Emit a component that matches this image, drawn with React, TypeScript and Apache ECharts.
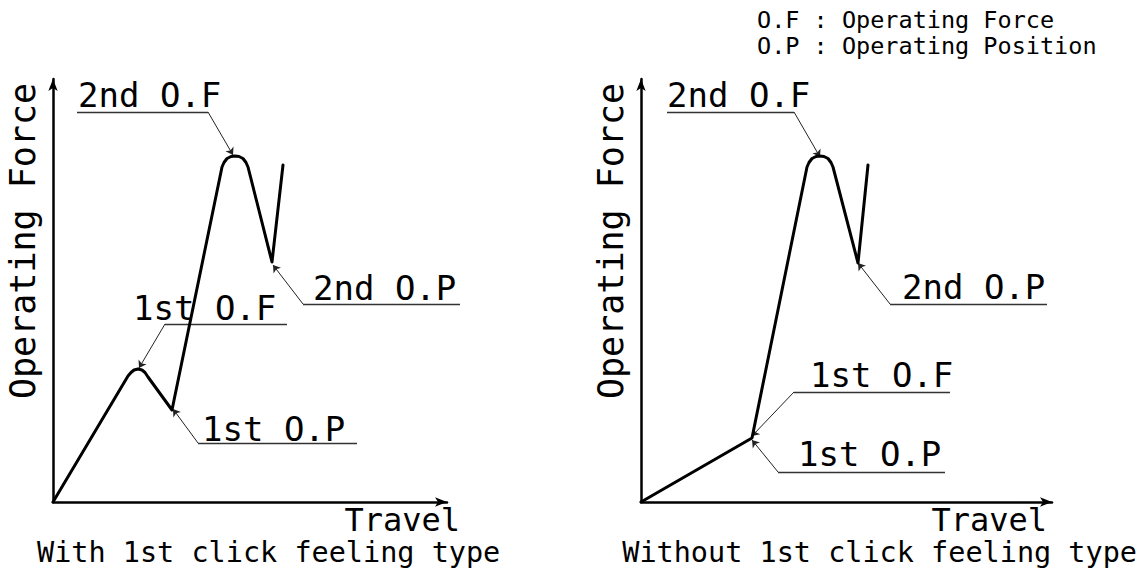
import React, { useEffect, useRef } from "react";
import * as echarts from "echarts";

// Values are in drawing units (≈ px from each chart's origin).
const leftCurve = [
  [0, 0], [75, 126], [78, 129.5], [81, 132], [85, 133], [89, 132], [92, 129.5], [95, 125], [119, 92],
  [169, 335], [171, 339.5], [174, 343.5], [178, 345.5], [182, 346], [186, 345.5], [190, 343.5], [193, 339.5], [195, 335],
  [219, 240], [230, 337],
];
const rightCurve = [
  [0, 0], [111, 64], [166, 335], [168, 339.5], [171, 343.5], [175, 345.5], [179, 346], [183, 345.5], [187, 343.5],
  [190, 339.5], [192, 335], [217, 239], [227, 337],
];

// leader polylines: shelf end, shelf corner, arrow tip
const leftLeaders = [
  [[24, 390], [155, 390], [180, 347]],
  [[407, 198], [250, 198], [220, 237]],
  [[234, 178], [112, 178], [86, 134]],
  [[304, 59], [145, 59], [120, 93]],
];
const rightLeaders = [
  [[26, 390], [153, 390], [179, 345]],
  [[406, 198], [249, 198], [217, 239]],
  [[309, 110], [153, 110], [111, 66]],
  [[304, 30], [137, 30], [111, 62]],
];

const leftNotes = [
  { name: "2nd O.F", value: [25, 407] },
  { name: "2nd O.P", value: [260, 214] },
  { name: "1st O.F", value: [80, 194] },
  { name: "1st O.P", value: [149, 73] },
];
const rightNotes = [
  { name: "2nd O.F", value: [26, 407] },
  { name: "2nd O.P", value: [261, 215] },
  { name: "1st O.F", value: [169, 127] },
  { name: "1st O.P", value: [157, 48] },
];

const axisTitleY = "Operating Force";
const axisTitleX = "Travel";
const captions = ["With 1st click feeling type", "Without 1st click feeling type"];
const legendLines = ["O.F : Operating Force", "O.P : Operating Position"];

const FONT = "'DejaVu Sans Mono', 'Liberation Mono', monospace";

function axisPair(grid: number, max: number) {
  const line = {
    show: true,
    symbol: ["none", "arrow"],
    symbolSize: [7, 12],
    lineStyle: { color: "#000", width: 2.5 },
  };
  return {
    x: {
      type: "value", gridIndex: grid, min: 0, max,
      axisLine: line, axisTick: { show: false }, axisLabel: { show: false }, splitLine: { show: false },
    },
    y: {
      type: "value", gridIndex: grid, min: 0, max: 423,
      axisLine: line, axisTick: { show: false }, axisLabel: { show: false }, splitLine: { show: false },
    },
  };
}

function panelSeries(idx: number, curve: number[][], leaders: number[][][], notes: any[]) {
  return [
    {
      type: "line", xAxisIndex: idx, yAxisIndex: idx, data: curve, symbol: "none",
      lineStyle: { color: "#000", width: 3, join: "round", cap: "round" }, silent: true,
    },
    {
      type: "lines", coordinateSystem: "cartesian2d", xAxisIndex: idx, yAxisIndex: idx,
      clip: false, silent: true, symbol: "none",
      lineStyle: { color: "#333", width: 1.3, opacity: 1 },
      data: leaders.map((c) => ({ coords: [c[0], c[1]] })),
    },
    {
      type: "lines", coordinateSystem: "cartesian2d", xAxisIndex: idx, yAxisIndex: idx,
      clip: false, silent: true,
      symbol: ["none", "arrow"], symbolSize: 7,
      lineStyle: { color: "#222", width: 1, opacity: 1 },
      data: leaders.map((c) => ({ coords: [c[1], c[2]] })),
    },
    {
      type: "scatter", xAxisIndex: idx, yAxisIndex: idx, symbolSize: 0, silent: true, clip: false,
      itemStyle: { opacity: 1, color: "#000" },
      data: notes,
      label: {
        show: true, position: "right", distance: 0, formatter: "{b}",
        fontFamily: FONT, fontSize: 34, color: "#000", opacity: 1, textBorderWidth: 0,
      },
    },
  ];
}

export default function App() {
  const ref = useRef<HTMLDivElement>(null);
  useEffect(() => {
    if (!ref.current) return;
    const chart = echarts.init(ref.current, undefined, { renderer: "svg" });
    const a = axisPair(0, 394);
    const b = axisPair(1, 411);
    const txt = (extra: any) => ({ type: "text", silent: true, ...extra });
    chart.setOption({
      animation: false,
      backgroundColor: "#fff",
      grid: [
        { left: 53, top: 79, width: 394, height: 423 },
        { left: 641, top: 79, width: 411, height: 423 },
      ],
      xAxis: [a.x, b.x],
      yAxis: [a.y, b.y],
      series: [
        ...panelSeries(0, leftCurve, leftLeaders, leftNotes),
        ...panelSeries(1, rightCurve, rightLeaders, rightNotes),
      ],
      graphic: [
        txt({ x: 757, y: 20, style: { text: legendLines[0], font: `23.5px ${FONT}`, fill: "#000", align: "left", verticalAlign: "middle" } }),
        txt({ x: 757, y: 46, style: { text: legendLines[1], font: `23.5px ${FONT}`, fill: "#000", align: "left", verticalAlign: "middle" } }),
        txt({ x: 22.5, y: 241, rotation: Math.PI / 2, style: { text: axisTitleY, font: `35px ${FONT}`, fill: "#000", align: "center", verticalAlign: "middle" } }),
        txt({ x: 610.5, y: 241, rotation: Math.PI / 2, style: { text: axisTitleY, font: `35px ${FONT}`, fill: "#000", align: "center", verticalAlign: "middle" } }),
        txt({ x: 460, y: 520, style: { text: axisTitleX, font: `32px ${FONT}`, fill: "#000", align: "right", verticalAlign: "middle" } }),
        txt({ x: 1047, y: 520, style: { text: axisTitleX, font: `32px ${FONT}`, fill: "#000", align: "right", verticalAlign: "middle" } }),
        txt({ x: 37, y: 552.5, style: { text: captions[0], font: `28.5px ${FONT}`, fill: "#000", align: "left", verticalAlign: "middle" } }),
        txt({ x: 1137, y: 552.5, style: { text: captions[1], font: `28.5px ${FONT}`, fill: "#000", align: "right", verticalAlign: "middle" } }),
      ],
    });
    return () => chart.dispose();
  }, []);
  return (
    <div
      ref={ref}
      style={{ position: "absolute", left: 0, top: 0, width: 1147, height: 568, background: "#fff" }}
    />
  );
}
